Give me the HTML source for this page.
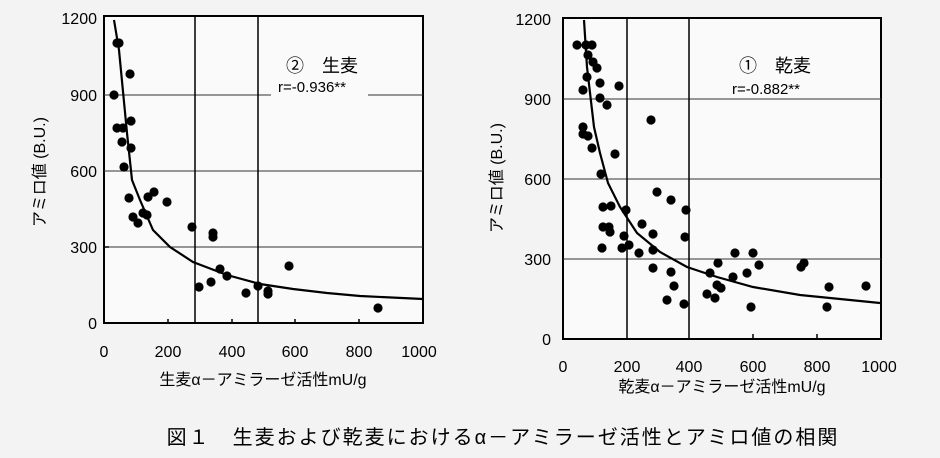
<!DOCTYPE html>
<html><head><meta charset="utf-8"><style>
html,body{margin:0;padding:0;background:#f3f3f3;}
svg{display:block;font-family:"Liberation Sans","Noto Sans CJK JP",sans-serif;}
</style></head><body>
<svg width="940" height="458" viewBox="0 0 940 458" xmlns="http://www.w3.org/2000/svg">
<rect width="940" height="458" fill="#f3f3f3"/>
<!-- LEFT CHART -->
<g>
<rect x="104" y="16" width="319" height="307" fill="#fafafa" stroke="#000" stroke-width="2"/>
<g stroke="#333" stroke-width="1">
<line x1="104" y1="95" x2="271" y2="95"/><line x1="368" y1="95" x2="423" y2="95"/>
<line x1="104" y1="171" x2="423" y2="171"/>
<line x1="104" y1="247" x2="423" y2="247"/>
</g>
<g stroke="#000" stroke-width="1.5">
<line x1="195" y1="16" x2="195" y2="323"/><line x1="258" y1="16" x2="258" y2="323"/>
<line x1="168" y1="323" x2="168" y2="319"/><line x1="232" y1="323" x2="232" y2="319"/><line x1="295" y1="323" x2="295" y2="319"/><line x1="359" y1="323" x2="359" y2="319"/>
<line x1="104" y1="247" x2="109" y2="247"/>
</g>
<polyline fill="none" stroke="#000" stroke-width="2.2" points="114,20 119,50 127,133 132,180 140,200 153,230 170,247 193,262 227,275 260,284 293,289 327,293 360,296 423,299"/>
<g fill="#000">
<circle cx="119" cy="43" r="4.6"/><circle cx="117" cy="43" r="4.6"/><circle cx="130" cy="74" r="4.6"/><circle cx="114" cy="95" r="4.6"/><circle cx="117" cy="128" r="4.6"/><circle cx="123" cy="128" r="4.6"/><circle cx="122" cy="142" r="4.6"/><circle cx="131" cy="121" r="4.6"/><circle cx="131" cy="148" r="4.6"/><circle cx="124" cy="167" r="4.6"/><circle cx="129" cy="198" r="4.6"/><circle cx="133" cy="217" r="4.6"/><circle cx="138" cy="223" r="4.6"/><circle cx="143" cy="213" r="4.6"/><circle cx="147" cy="215" r="4.6"/><circle cx="148" cy="197" r="4.6"/><circle cx="154" cy="192" r="4.6"/><circle cx="167" cy="202" r="4.6"/><circle cx="192" cy="227" r="4.6"/><circle cx="213" cy="233" r="4.6"/><circle cx="213" cy="237" r="4.6"/><circle cx="199" cy="287" r="4.6"/><circle cx="211" cy="282" r="4.6"/><circle cx="220" cy="269" r="4.6"/><circle cx="227" cy="276" r="4.6"/><circle cx="246" cy="293" r="4.6"/><circle cx="258" cy="286" r="4.6"/><circle cx="268" cy="291" r="4.6"/><circle cx="268" cy="294" r="4.6"/><circle cx="289" cy="266" r="4.6"/><circle cx="378" cy="308" r="4.6"/>
</g>
<text x="286" y="72" font-size="18">②　生麦</text>
<text x="278" y="92" font-size="15">r=-0.936**</text>
<g font-size="16" text-anchor="end">
<text x="97" y="24">1200</text><text x="97" y="101">900</text><text x="97" y="177">600</text><text x="97" y="253">300</text><text x="97" y="329">0</text>
</g>
<g font-size="16" text-anchor="middle">
<text x="104" y="357">0</text><text x="168" y="357">200</text><text x="232" y="357">400</text><text x="295" y="357">600</text><text x="359" y="357">800</text><text x="419" y="357">1000</text>
</g>
<text x="263" y="385" font-size="16" text-anchor="middle">生麦α－アミラーゼ活性mU/g</text>
<text transform="translate(45,172) rotate(-90)" font-size="16" text-anchor="middle">アミロ値 (B.U.)</text>
</g>
<!-- RIGHT CHART -->
<g>
<rect x="563" y="18" width="318" height="321" fill="#fafafa" stroke="#000" stroke-width="2"/>
<g stroke="#333" stroke-width="1">
<line x1="563" y1="99" x2="881" y2="99"/><line x1="563" y1="179" x2="881" y2="179"/><line x1="563" y1="259" x2="881" y2="259"/>
</g>
<g stroke="#000" stroke-width="1.5">
<line x1="627" y1="18" x2="627" y2="339"/><line x1="689" y1="18" x2="689" y2="339"/>
<line x1="753" y1="339" x2="753" y2="334"/><line x1="817" y1="339" x2="817" y2="334"/>
</g>
<polyline fill="none" stroke="#000" stroke-width="2.2" points="584,20 587,67 594,127 600,153 608,183 620,207 637,233 660,252 687,267 717,277 753,287 800,295 880,303"/>
<g fill="#000">
<circle cx="577" cy="45" r="4.6"/><circle cx="586" cy="45" r="4.6"/><circle cx="592" cy="45" r="4.6"/><circle cx="588" cy="55" r="4.6"/><circle cx="593" cy="62" r="4.6"/><circle cx="597" cy="68" r="4.6"/><circle cx="587" cy="77" r="4.6"/><circle cx="600" cy="83" r="4.6"/><circle cx="583" cy="90" r="4.6"/><circle cx="600" cy="98" r="4.6"/><circle cx="607" cy="105" r="4.6"/><circle cx="619" cy="86" r="4.6"/><circle cx="583" cy="127" r="4.6"/><circle cx="583" cy="134" r="4.6"/><circle cx="588" cy="136" r="4.6"/><circle cx="592" cy="148" r="4.6"/><circle cx="601" cy="174" r="4.6"/><circle cx="603" cy="207" r="4.6"/><circle cx="611" cy="206" r="4.6"/><circle cx="603" cy="227" r="4.6"/><circle cx="609" cy="227" r="4.6"/><circle cx="610" cy="232" r="4.6"/><circle cx="602" cy="248" r="4.6"/><circle cx="615" cy="154" r="4.6"/><circle cx="651" cy="120" r="4.6"/><circle cx="657" cy="192" r="4.6"/><circle cx="671" cy="200" r="4.6"/><circle cx="686" cy="210" r="4.6"/><circle cx="626" cy="210" r="4.6"/><circle cx="624" cy="236" r="4.6"/><circle cx="622" cy="248" r="4.6"/><circle cx="629" cy="245" r="4.6"/><circle cx="642" cy="224" r="4.6"/><circle cx="639" cy="253" r="4.6"/><circle cx="653" cy="234" r="4.6"/><circle cx="653" cy="250" r="4.6"/><circle cx="653" cy="268" r="4.6"/><circle cx="671" cy="272" r="4.6"/><circle cx="674" cy="286" r="4.6"/><circle cx="667" cy="300" r="4.6"/><circle cx="684" cy="304" r="4.6"/><circle cx="685" cy="237" r="4.6"/><circle cx="710" cy="273" r="4.6"/><circle cx="707" cy="294" r="4.6"/><circle cx="715" cy="298" r="4.6"/><circle cx="718" cy="263" r="4.6"/><circle cx="717" cy="285" r="4.6"/><circle cx="721" cy="288" r="4.6"/><circle cx="733" cy="277" r="4.6"/><circle cx="735" cy="253" r="4.6"/><circle cx="747" cy="273" r="4.6"/><circle cx="753" cy="253" r="4.6"/><circle cx="759" cy="265" r="4.6"/><circle cx="751" cy="307" r="4.6"/><circle cx="801" cy="267" r="4.6"/><circle cx="804" cy="263" r="4.6"/><circle cx="829" cy="287" r="4.6"/><circle cx="827" cy="307" r="4.6"/><circle cx="866" cy="286" r="4.6"/>
</g>
<text x="739" y="72" font-size="18">①　乾麦</text>
<text x="732" y="94" font-size="15">r=-0.882**</text>
<g font-size="16" text-anchor="end">
<text x="551" y="25">1200</text><text x="551" y="105">900</text><text x="551" y="185">600</text><text x="551" y="265">300</text><text x="551" y="345">0</text>
</g>
<g font-size="16" text-anchor="middle">
<text x="563" y="372">0</text><text x="627" y="372">200</text><text x="689" y="372">400</text><text x="753" y="372">600</text><text x="817" y="372">800</text><text x="879" y="372">1000</text>
</g>
<text x="722" y="392" font-size="16" text-anchor="middle">乾麦α－アミラーゼ活性mU/g</text>
<text transform="translate(502,178) rotate(-90)" font-size="16" text-anchor="middle">アミロ値 (B.U.)</text>
</g>
<text x="503" y="444" font-size="20" text-anchor="middle" letter-spacing="2">図１　生麦および乾麦におけるα－アミラーゼ活性とアミロ値の相関</text>
</svg>
</body></html>
